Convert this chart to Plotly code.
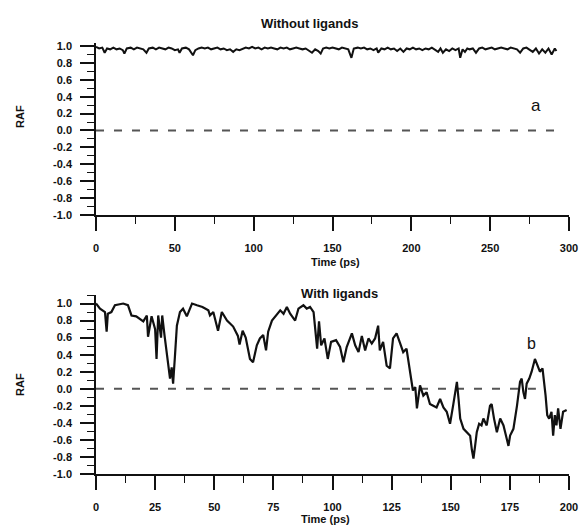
import plotly.graph_objects as go

# ---------- data ----------
top_t = [0, 2, 4, 5.5, 7, 9, 11, 13, 15, 17, 18, 19.5, 22, 24, 26, 28, 30, 32, 33.5, 36, 38, 40, 42, 44, 46, 48,
         50, 52, 53, 54.5, 57, 59, 61.5, 63, 65, 67, 69, 71, 73, 75, 77, 79, 81, 83, 85, 87, 89, 91, 93, 95, 97,
         99, 101, 103, 105, 107, 109, 111, 113, 115, 117, 119, 121, 123, 125, 127, 129, 131, 133, 135, 137, 139,
         141, 142.5, 144, 146, 148, 150, 152, 154, 156, 158, 160, 162, 163.5, 166, 168, 170, 172, 174, 176, 178,
         179, 181, 183, 185, 187, 189, 191, 193, 195, 197, 199, 201, 203, 205, 207, 209, 211, 213, 215, 217,
         218.5, 220, 222, 224, 226, 228, 230, 231, 232.5, 234, 235.5, 237, 239, 241, 243, 245, 247, 249, 251,
         253, 255, 257, 259, 261, 263, 265, 267, 269, 271, 273, 275, 277, 279, 281, 283, 285, 287, 289, 291, 292]
top_raf = [0.99, 0.97, 0.98, 0.92, 0.97, 0.96, 0.98, 0.96, 0.97, 0.95, 0.91, 0.97, 0.98, 0.96, 0.98, 0.97, 0.96,
           0.92, 0.97, 0.98, 0.96, 0.98, 0.97, 0.96, 0.98, 0.97, 0.95, 0.96, 0.92, 0.97, 0.98, 0.96, 0.89, 0.95,
           0.97, 0.98, 0.97, 0.98, 0.96, 0.97, 0.98, 0.96, 0.97, 0.95, 0.96, 0.93, 0.96, 0.95, 0.97, 0.98, 0.97,
           0.99, 0.97, 0.98, 0.96, 0.98, 0.97, 0.98, 0.97, 0.96, 0.98, 0.97, 0.98, 0.96, 0.97, 0.98, 0.97, 0.96,
           0.97, 0.95, 0.92, 0.96, 0.94, 0.91, 0.97, 0.98, 0.97, 0.98, 0.97, 0.96, 0.98, 0.97, 0.96, 0.86, 0.97,
           0.98, 0.97, 0.98, 0.96, 0.97, 0.95, 0.97, 0.92, 0.97, 0.96, 0.98, 0.96, 0.97, 0.94, 0.97, 0.93, 0.97,
           0.96, 0.98, 0.96, 0.97, 0.95, 0.97, 0.96, 0.98, 0.96, 0.93, 0.97, 0.92, 0.96, 0.94, 0.97, 0.95, 0.97,
           0.86, 0.96, 0.93, 0.97, 0.96, 0.97, 0.92, 0.97, 0.98, 0.96, 0.97, 0.98, 0.96, 0.97, 0.98, 0.97, 0.96,
           0.98, 0.97, 0.96, 0.92, 0.97, 0.98, 0.96, 0.93, 0.97, 0.91, 0.96, 0.92, 0.97, 0.90, 0.97, 0.94]

bot_t = [0, 1.7, 3.8, 4.5, 5, 6.5, 8, 11.5, 13.5, 15, 17, 20, 21.5, 22, 23.5, 25, 25.6, 26.3, 27.5, 28, 29, 30.5,
         31.3, 32, 32.6, 33.4, 34.2, 35.5, 36.8, 38.4, 40.6, 42.7, 45, 47.5, 48.2, 49.6, 51.6, 53.2, 55.4, 58, 60,
         60.7, 62, 63.3, 65.1, 66.4, 68, 69.3, 70.7, 71.9, 72.8, 74.4, 76.5, 77.9, 79.3, 80.7, 82.1, 84.2, 85.6,
         87.7, 89.1, 90.5, 92, 93.5, 94.3, 95.2, 96.6, 98, 99.4, 101.5, 103.2, 104.6, 106, 108.2, 109.6, 111,
         112.4, 113.8, 115.2, 116.6, 118, 119.3, 120, 121.4, 122.9, 124.3, 125.6, 127.1, 128.5, 129.9, 131.3, 132,
         132.8, 134, 135, 135.7, 137, 138.4, 139.8, 141.2, 142.6, 144, 145.5, 146.9, 148.3, 149.7, 151.1, 152.6,
         153.3, 154, 155.4, 156.8, 158.2, 158.9, 159.6, 160.3, 161, 162, 163, 163.8, 165.2, 166.6, 167.3, 168.3,
         169.5, 170.9, 172.3, 173.7, 174.4, 175.1, 176.5, 178, 179.3, 180, 180.7, 181.4, 182.1, 183.2, 184.2,
         185.6, 186.6, 187.7, 188.8, 189.4, 190.1, 190.8, 191.6, 192.6, 193.3, 194, 194.7, 195.4, 196.4, 197.5,
         199]
bot_raf = [1.0, 0.94, 0.9, 0.67, 0.88, 0.9, 0.98, 1.0, 0.98, 0.86, 0.85, 0.79, 0.86, 0.61, 0.85, 0.7, 0.35, 0.86,
           0.6, 0.86, 0.62, 0.27, 0.12, 0.25, 0.06, 0.39, 0.74, 0.9, 0.94, 0.85, 1.0, 0.98, 0.96, 0.92, 0.86, 0.9,
           0.68, 0.9, 0.8, 0.73, 0.62, 0.52, 0.68, 0.6, 0.35, 0.31, 0.51, 0.59, 0.63, 0.45, 0.67, 0.8, 0.88, 0.92,
           0.88, 0.96, 0.88, 0.8, 0.94, 0.98, 0.94, 0.96, 0.9, 0.47, 0.79, 0.51, 0.59, 0.35, 0.55, 0.57, 0.49, 0.31,
           0.49, 0.65, 0.51, 0.43, 0.62, 0.45, 0.59, 0.53, 0.59, 0.74, 0.45, 0.55, 0.27, 0.24, 0.59, 0.65, 0.54,
           0.43, 0.47, 0.35, 0.24, -0.02, 0.02, -0.23, 0.04, -0.08, -0.04, -0.18, -0.2, -0.22, -0.12, -0.22, -0.27,
           -0.41, -0.18, 0.08, -0.12, -0.35, -0.47, -0.51, -0.55, -0.71, -0.82, -0.67, -0.51, -0.41, -0.43, -0.35,
           -0.43, -0.2, -0.18, -0.35, -0.51, -0.35, -0.43, -0.59, -0.67, -0.55, -0.47, -0.2, 0.08, 0.12, -0.04,
           -0.12, 0.06, 0.12, 0.2, 0.35, 0.27, 0.2, 0.24, 0.12, -0.08, -0.31, -0.35, -0.27, -0.55, -0.31, -0.43,
           -0.23, -0.47, -0.27, -0.25]

zero_top_x = [0, 292]
zero_bot_x = [0, 186]
zero_y = [0, 0]

y_tickvals = [1.0, 0.8, 0.6, 0.4, 0.2, 0.0, -0.2, -0.4, -0.6, -0.8, -1.0]
y_ticktext = ["1.0", "0.8", "0.6", "0.4", "0.2", "0.0", "-0.2", "-0.4", "-0.6", "-0.8", "-1.0"]
top_xticks = [0, 50, 100, 150, 200, 250, 300]
bot_xticks = [0, 25, 50, 75, 100, 125, 150, 175, 200]

# ---------- figure ----------
W, H = 582, 529
FONT = "Liberation Sans, Arial, sans-serif"
INK = "#111111"

def px_x(p):
    return p / W

def px_y(p):
    return 1 - p / H

fig = go.Figure()
fig.add_trace(go.Scatter(x=zero_top_x, y=zero_y, mode="lines", xaxis="x", yaxis="y",
                         line=dict(color="#555555", width=1.8, dash="8px,10px"), hoverinfo="skip"))
fig.add_trace(go.Scatter(x=top_t, y=top_raf, mode="lines", xaxis="x", yaxis="y",
                         line=dict(color=INK, width=2.0)))
fig.add_trace(go.Scatter(x=zero_bot_x, y=zero_y, mode="lines", xaxis="x2", yaxis="y2",
                         line=dict(color="#555555", width=1.8, dash="8px,10px"), hoverinfo="skip"))
fig.add_trace(go.Scatter(x=bot_t, y=bot_raf, mode="lines", xaxis="x2", yaxis="y2",
                         line=dict(color=INK, width=2.2)))

tickfont = dict(family=FONT, size=11, color=INK, weight="bold")
common_y = dict(tickvals=y_tickvals, ticktext=y_ticktext, ticks="outside", ticklen=14, tickwidth=1.5,
                tickcolor=INK, showline=True, linecolor=INK, linewidth=1.5, showgrid=False, zeroline=False,
                tickfont=tickfont, ticklabelstandoff=6, automargin=False,
                minor=dict(dtick=0.1, ticks="outside", ticklen=7, tickwidth=1.2, tickcolor=INK, showgrid=False))
common_x = dict(ticks="outside", ticklen=14, tickwidth=1.5, tickcolor=INK, showline=True, linecolor=INK,
                linewidth=1.5, showgrid=False, zeroline=False, tickfont=tickfont, ticklabelstandoff=8,
                automargin=False)

fig.update_layout(
    template="none",
    width=W, height=H, margin=dict(l=0, r=0, t=0, b=0, autoexpand=False),
    paper_bgcolor="white", plot_bgcolor="white", showlegend=False,
    xaxis=dict(domain=[px_x(96), px_x(569)], range=[0, 300], anchor="y", tickvals=top_xticks,
               minor=dict(dtick=25, ticks="outside", ticklen=7, tickwidth=1.2, tickcolor=INK), **common_x),
    yaxis=dict(domain=[px_y(215), px_y(43)], range=[-1.0, 1.035], anchor="x", **common_y),
    xaxis2=dict(domain=[px_x(96), px_x(569)], range=[0, 200], anchor="y2", tickvals=bot_xticks,
                minor=dict(dtick=12.5, ticks="outside", ticklen=7, tickwidth=1.2, tickcolor=INK), **common_x),
    yaxis2=dict(domain=[px_y(474), px_y(295)], range=[-1.0, 1.1], anchor="x2", **common_y),
)

ann = [
    dict(text="Without ligands", x=px_x(309), y=px_y(24), size=13, weight="bold"),
    dict(text="With ligands", x=px_x(339), y=px_y(293), size=13, weight="bold"),
    dict(text="Time (ps)", x=px_x(335), y=px_y(262), size=11, weight="bold"),
    dict(text="Time (ps)", x=px_x(325), y=px_y(519), size=11, weight="bold"),
    dict(text="a", x=px_x(536), y=px_y(105), size=17, weight="normal"),
    dict(text="b", x=px_x(531), y=px_y(343), size=16, weight="normal"),
]
for a in ann:
    fig.add_annotation(text=a["text"], x=a["x"], y=a["y"], xref="paper", yref="paper", showarrow=False,
                       xanchor="center", yanchor="middle",
                       font=dict(family=FONT, size=a["size"], color=INK, weight=a["weight"]))
for yc in (117, 385):
    fig.add_annotation(text="RAF", x=px_x(20), y=px_y(yc), xref="paper", yref="paper", showarrow=False,
                       textangle=-90, xanchor="center", yanchor="middle",
                       font=dict(family=FONT, size=11, color=INK, weight="bold"))

fig.write_html("out.html", config={"displayModeBar": False},
               post_script="document.body.style.margin='0';document.body.style.overflow='hidden';")
